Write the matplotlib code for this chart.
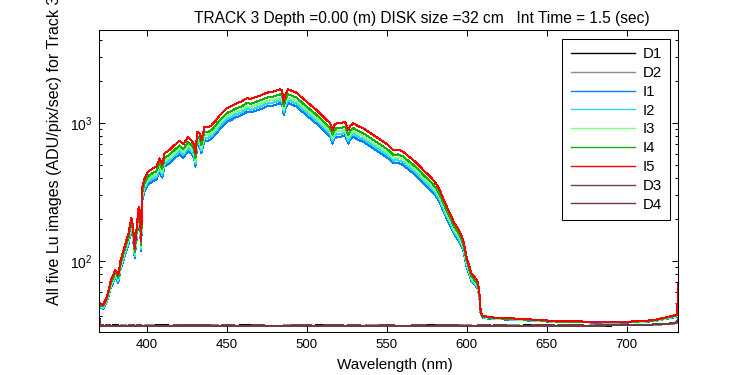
import matplotlib
matplotlib.use('Agg')
import matplotlib.pyplot as plt

# ---------------- data ----------------
wavelength = [370, 371, 372.5, 374, 375.5, 377.5, 379, 380, 381, 382,
              383.5, 386, 388.5, 390.2, 391.3, 392.3, 393, 394, 394.8, 395.5,
              396.3, 397.2, 398.5, 400.6, 402, 403.8, 405.8, 407.9, 409.5, 411,
              414, 417.3, 420.4, 422.7, 425.6, 427.7, 429.4, 430.3, 431.4, 433,
              434, 436, 438, 440.2, 443.3, 445.6, 447.5, 449.8, 453, 456,
              459, 462.3, 465, 468.6, 472, 474.8, 479, 481, 483.1, 484.5,
              485.5, 486.5, 488.3, 490, 493.5, 496, 499.8, 503, 506, 509,
              512.3, 514.5, 516, 517, 518.5, 521, 523.8, 525.8, 527, 529,
              532, 535.2, 538, 541.5, 544.5, 547.7, 551, 554, 557, 560.2,
              563, 566.5, 570, 572.7, 576, 579, 581, 583.1, 585.2, 588,
              590, 592, 594, 595.6, 597.7, 599.8, 601.5, 602.9, 605, 606.5,
              607.7, 608.5, 609.3, 610.2, 613, 616.4, 620, 627, 635, 647.5,
              658, 670, 680, 690, 700, 710, 716.5, 722, 726, 730,
              731.5, 732]

I5 = [50, 49, 48, 52, 58, 73, 80, 86, 84, 79,
      101, 127, 160, 206, 177, 124, 150, 198, 247, 230,
      140, 345, 399, 444, 455, 470, 482, 555, 500, 603,
      637, 693, 745, 700, 787, 753, 700, 603, 865, 840,
      753, 940, 930, 960, 1051, 1143, 1200, 1278, 1330, 1389,
      1430, 1510, 1500, 1551, 1600, 1658, 1686, 1720, 1753, 1720,
      1428, 1600, 1753, 1720, 1658, 1560, 1428, 1330, 1242, 1150,
      1051, 1000, 890, 960, 995, 995, 1022, 890, 950, 995,
      950, 915, 870, 818, 775, 732, 690, 637, 640, 620,
      580, 539, 495, 456, 420, 386, 360, 327, 284, 240,
      215, 190, 175, 163, 142, 107, 92, 81, 76, 72,
      62, 45, 41, 40, 39.5, 39, 38.8, 38.5, 38, 37.3,
      36.5, 36.5, 36.3, 36.2, 36.3, 36.8, 37.3, 38.5, 39.5, 40.5,
      41, 68]

I4 = [48.7, 47.8, 46.9, 50.6, 56.1, 69.9, 76.3, 81.8, 80.0, 75.4,
      95.6, 119.6, 149.9, 192.2, 165.6, 116.8, 140.7, 184.9, 230, 214.3,
      131.5, 320, 369.8, 411.2, 421.3, 435.1, 446.2, 513.3, 462.7, 557.5,
      588.8, 640.3, 688.1, 646.7, 726.8, 695.5, 646.7, 557.5, 798.5, 775.5,
      695.5, 867.5, 858.3, 885.9, 969.6, 1054.3, 1106.7, 1178.5, 1226.3, 1280.6,
      1318.3, 1391.9, 1382.7, 1429.6, 1474.7, 1528.1, 1553.8, 1585.1, 1615.5, 1585.1,
      1316.5, 1474.7, 1615.5, 1585.1, 1528.1, 1437.9, 1316.5, 1226.3, 1145.4, 1060.7,
      969.6, 922.7, 821.5, 885.9, 918.1, 918.1, 943.0, 821.5, 876.7, 918.1,
      876.7, 844.5, 803.1, 755.3, 715.7, 676.2, 637.5, 588.8, 591.5, 573.1,
      536.3, 498.6, 458.1, 422.2, 389.1, 357.8, 333.9, 303.6, 264.0, 223.5,
      200.5, 177.5, 163.7, 152.7, 133.4, 101.2, 87.4, 77.2, 72.6, 69.0,
      59.8, 44.1, 40.4, 39.5, 39.1, 38.6, 38.4, 38.1, 37.7, 37.0,
      36.3, 36.3, 36.1, 36.0, 36.1, 36.6, 37.0, 38.1, 39.1, 40.0,
      40.4, 65.3]

I3 = [47.9, 47.1, 46.2, 49.7, 54.9, 67.9, 74.0, 79.2, 77.5, 73.2,
      92.3, 114.9, 143.6, 183.6, 158.4, 112.3, 134.9, 176.7, 219.3, 204.5,
      126.2, 304.6, 351.6, 390.7, 400.3, 413.3, 423.8, 487.3, 439.4, 529.0,
      558.6, 607.3, 652.6, 613.4, 689.1, 659.5, 613.4, 529.0, 757.0, 735.2,
      659.5, 822.2, 813.5, 839.6, 918.8, 998.8, 1048.4, 1116.3, 1161.5, 1212.9,
      1248.5, 1318.1, 1309.4, 1353.8, 1396.4, 1446.9, 1471.2, 1500.8, 1529.5, 1500.8,
      1246.8, 1396.4, 1529.5, 1500.8, 1446.9, 1361.6, 1246.8, 1161.5, 1085.0, 1004.9,
      918.8, 874.4, 778.7, 839.6, 870.1, 870.1, 893.6, 778.7, 830.9, 870.1,
      830.9, 800.5, 761.3, 716.1, 678.7, 641.3, 604.7, 558.6, 561.2, 543.8,
      509.0, 473.4, 435.1, 401.1, 369.8, 340.2, 317.6, 288.9, 251.5, 213.2,
      191.5, 169.7, 156.7, 146.2, 128.0, 97.5, 84.5, 74.9, 70.5, 67.1,
      58.4, 43.6, 40.1, 39.2, 38.8, 38.4, 38.2, 37.9, 37.5, 36.9,
      36.2, 36.2, 36.0, 35.9, 36.0, 36.4, 36.9, 37.9, 38.8, 39.7,
      40.1, 63.6]

I2 = [47.3, 46.5, 45.6, 48.9, 53.9, 66.4, 72.2, 77.2, 75.5, 71.4,
      89.6, 111.2, 138.6, 176.8, 152.7, 108.7, 130.3, 170.1, 210.8, 196.7,
      122.0, 292.1, 337.0, 374.3, 383.4, 395.9, 405.8, 466.4, 420.8, 506.3,
      534.5, 581.0, 624.1, 586.8, 659.0, 630.8, 586.8, 506.3, 723.7, 703.0,
      630.8, 786.0, 777.7, 802.6, 878.1, 954.5, 1001.8, 1066.5, 1109.7, 1158.7,
      1192.7, 1259.1, 1250.8, 1293.1, 1333.8, 1381.9, 1405.2, 1433.4, 1460.8, 1433.4,
      1191.0, 1333.8, 1460.8, 1433.4, 1381.9, 1300.6, 1191.0, 1109.7, 1036.6, 960.3,
      878.1, 835.8, 744.5, 802.6, 831.6, 831.6, 854.0, 744.5, 794.3, 831.6,
      794.3, 765.2, 727.9, 684.7, 649.0, 613.3, 578.5, 534.5, 537.0, 520.4,
      487.2, 453.2, 416.6, 384.3, 354.4, 326.2, 304.6, 277.2, 241.5, 205.0,
      184.2, 163.5, 151.0, 141.1, 123.6, 94.6, 82.1, 73.0, 68.9, 65.5,
      57.2, 43.1, 39.8, 39.0, 38.6, 38.2, 38.0, 37.7, 37.3, 36.7,
      36.1, 36.1, 35.9, 35.8, 35.9, 36.3, 36.7, 37.7, 38.6, 39.4,
      39.8, 62.2]

I1 = [46.6, 45.9, 45.1, 48.2, 53.0, 64.8, 70.3, 75.1, 73.5, 69.6,
      86.9, 107.5, 133.5, 169.9, 147.0, 105.1, 125.6, 163.6, 202.3, 188.8,
      117.7, 279.7, 322.4, 357.9, 366.6, 378.4, 387.9, 445.6, 402.1, 483.5,
      510.4, 554.6, 595.7, 560.1, 628.9, 602.0, 560.1, 483.5, 690.5, 670.7,
      602.0, 749.7, 741.8, 765.5, 837.4, 910.1, 955.1, 1016.8, 1057.8, 1104.5,
      1136.8, 1200.0, 1192.1, 1232.4, 1271.1, 1317.0, 1339.1, 1365.9, 1392.0, 1365.9,
      1135.3, 1271.1, 1392.0, 1365.9, 1317.0, 1239.5, 1135.3, 1057.8, 988.3, 915.6,
      837.4, 797.1, 710.2, 765.5, 793.2, 793.2, 814.5, 710.2, 757.6, 793.2,
      757.6, 730.0, 694.4, 653.4, 619.4, 585.4, 552.2, 510.4, 512.7, 496.9,
      465.3, 433.0, 398.2, 367.4, 338.9, 312.1, 291.5, 265.5, 231.5, 196.7,
      177.0, 157.2, 145.4, 135.9, 119.3, 91.7, 79.8, 71.1, 67.2, 64.0,
      56.1, 42.7, 39.5, 38.7, 38.3, 38.0, 37.8, 37.6, 37.2, 36.6,
      36.0, 36.0, 35.8, 35.7, 35.8, 36.2, 36.6, 37.6, 38.3, 39.1,
      39.5, 60.9]

wl_dark = [370, 370.6, 371.2, 375, 380, 385, 390, 395, 400, 410,
           420, 430, 440, 450, 460, 470, 480, 490, 500, 510,
           520, 530, 540, 550, 560, 570, 580, 590, 600, 610,
           620, 630, 640, 650, 660, 670, 680, 690, 700, 710,
           720, 726, 730, 731.5, 732]

D1 = [42, 35.0, 34.1, 33.9, 34.2, 34.0, 33.8, 34.1, 34.0, 34.2,
      33.9, 34.1, 34.0, 33.8, 34.2, 34.0, 34.1, 33.9, 34.0, 34.2,
      33.9, 34.1, 34.0, 33.8, 34.1, 34.0, 34.2, 33.9, 34.0, 34.1,
      33.9, 34.0, 34.2, 34.0, 33.9, 34.1, 34.0, 34.1, 34.3, 34.4,
      34.7, 35.0, 35.4, 35.8, 37.5]
D2 = [40, 34.6, 34.0, 34.1, 33.9, 34.2, 34.0, 33.9, 34.2, 34.0,
      34.1, 33.8, 34.2, 34.0, 33.9, 34.1, 34.0, 34.2, 33.9, 34.0,
      34.1, 33.9, 34.2, 34.0, 33.9, 34.1, 33.9, 34.1, 34.2, 33.9,
      34.1, 34.2, 33.9, 34.1, 34.0, 33.9, 34.2, 34.2, 34.2, 34.5,
      34.6, 34.9, 35.3, 35.7, 37.0]
D3 = [41, 34.8, 34.2, 34.0, 34.1, 33.9, 34.2, 34.0, 34.1, 33.9,
      34.2, 34.0, 33.9, 34.2, 34.0, 34.1, 33.9, 34.1, 34.2, 33.9,
      34.0, 34.2, 33.9, 34.1, 34.0, 34.2, 34.0, 34.0, 33.9, 34.2,
      34.0, 34.1, 34.0, 33.9, 34.2, 34.0, 34.1, 34.3, 34.3, 34.5,
      34.8, 35.1, 35.5, 36.0, 38.0]
D4 = [41.5, 34.7, 33.9, 34.2, 34.0, 34.1, 33.9, 34.2, 33.9, 34.1,
      34.0, 34.2, 34.1, 33.9, 34.0, 34.2, 33.9, 34.0, 34.1, 34.1,
      34.2, 33.9, 34.0, 34.2, 34.0, 33.9, 34.1, 34.2, 34.0, 33.9,
      34.2, 34.0, 34.1, 34.2, 34.0, 34.2, 33.9, 34.2, 34.4, 34.5,
      34.8, 35.2, 35.6, 36.1, 38.5]

series_names = ['D1', 'D2', 'I1', 'I2', 'I3', 'I4', 'I5', 'D3', 'D4']
series_colors = ['#000000', '#8c8c8c', '#0080ff', '#2ed8f5', '#80ff80',
                 '#10b010', '#ff0000', '#7a4040', '#6e3c3c']

title_text = 'TRACK 3 Depth =0.00 (m) DISK size =32 cm   Int Time = 1.5 (sec)'
xlabel_text = 'Wavelength (nm)'
ylabel_text = 'All five Lu images (ADU/pix/sec) for Track 3'
xtick_values = [400, 450, 500, 550, 600, 650, 700]

# ---------------- style ----------------
plt.rcParams['font.family'] = ['Liberation Sans', 'DejaVu Sans']
plt.rcParams['mathtext.fontset'] = 'custom'
plt.rcParams['mathtext.rm'] = 'Liberation Sans'
plt.rcParams['mathtext.it'] = 'Liberation Sans'
plt.rcParams['mathtext.default'] = 'regular'
plt.rcParams['font.size'] = 10
plt.rcParams['axes.linewidth'] = 0.75

fig = plt.figure(figsize=(7.5, 3.75), dpi=100)
fig.patch.set_facecolor('white')
ax = fig.add_axes([99 / 750, 43 / 375, 579 / 750, 302 / 375])

data = {
    'D1': (wl_dark, D1), 'D2': (wl_dark, D2),
    'I1': (wavelength, I1), 'I2': (wavelength, I2), 'I3': (wavelength, I3),
    'I4': (wavelength, I4), 'I5': (wavelength, I5),
    'D3': (wl_dark, D3), 'D4': (wl_dark, D4),
}
for name, col in zip(series_names, series_colors):
    xs, ys = data[name]
    ax.plot(xs, ys, color=col, lw=0.72, label=name, antialiased=False)

ax.set_yscale('log')
ax.set_xlim(370, 732)
ax.set_ylim(30.6, 4720)
ax.set_xticks(xtick_values)
ax.set_xticklabels([str(v) for v in xtick_values])
ax.tick_params(which='both', direction='in', top=True, right=True,
               width=0.75, labelsize=10)
ax.tick_params(axis='x', which='major', labelsize=9.5)
ax.tick_params(which='major', length=4.5, pad=5)
ax.tick_params(which='minor', length=2.5)

leg = ax.legend(loc='upper right', bbox_to_anchor=(670 / 750, 1 - 39 / 375),
                bbox_transform=fig.transFigure, frameon=True, fancybox=False,
                edgecolor='black', framealpha=1, borderaxespad=0,
                handlelength=4.3, handletextpad=0.5, labelspacing=0.32,
                borderpad=0.55, fontsize=10.8)
leg.get_frame().set_linewidth(0.75)
for h in leg.get_lines():
    h.set_antialiased(True)
    h.set_linewidth(1.0)

fig.text(422 / 750, 1 - 18 / 375, title_text, ha='center', va='center', fontsize=11.2)
fig.text(395 / 750, 1 - 365 / 375, xlabel_text, ha='center', va='center', fontsize=11)
fig.text(55 / 750, 1 - 305 / 375, ylabel_text, rotation=90, ha='center',
         va='bottom', fontsize=11.5)

fig.savefig('out.png', dpi=100, facecolor='white')
